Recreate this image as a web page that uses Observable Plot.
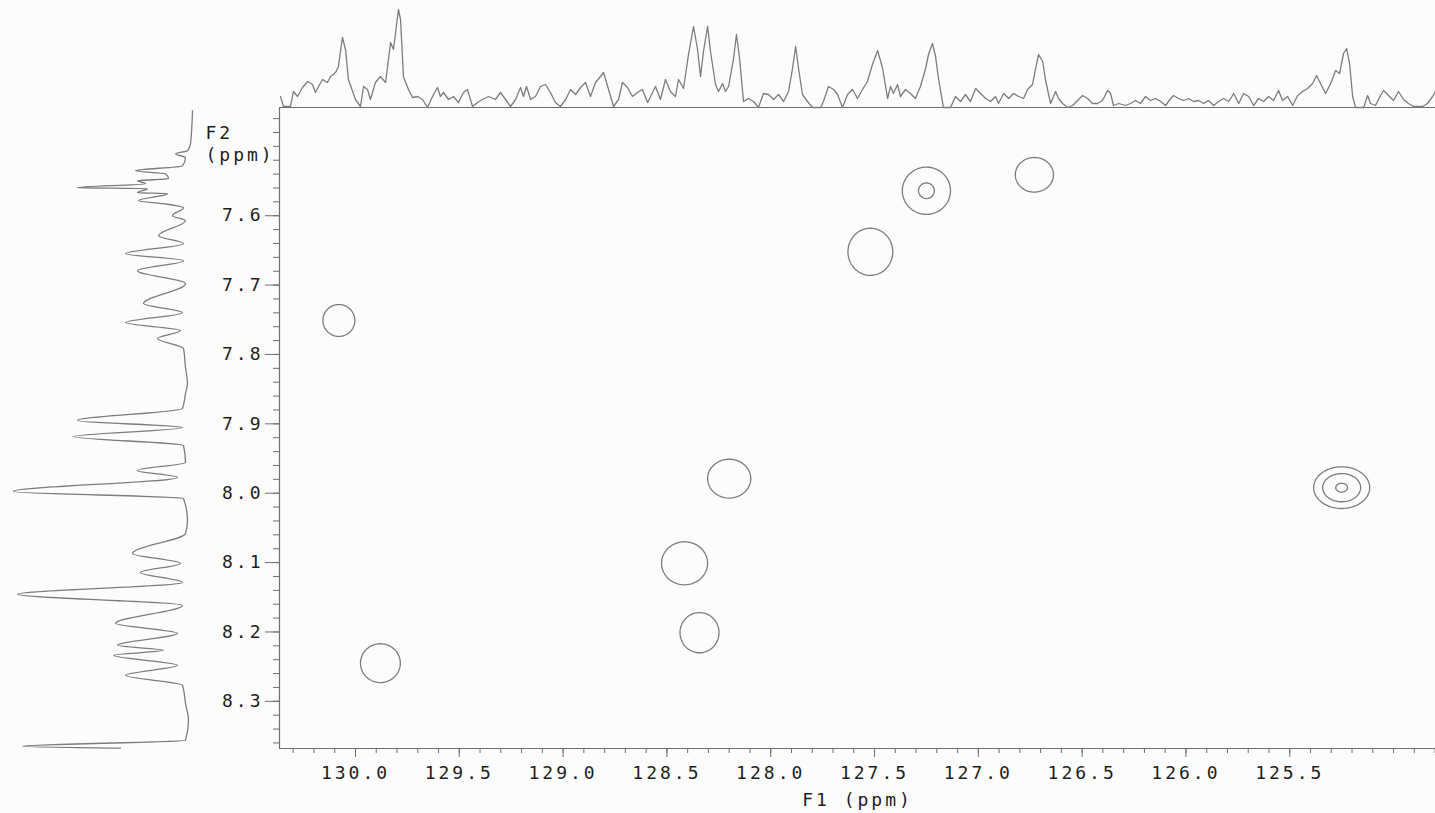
<!DOCTYPE html>
<html><head><meta charset="utf-8">
<script src="https://cdn.jsdelivr.net/npm/d3@7"></script>
<script src="https://cdn.jsdelivr.net/npm/@observablehq/plot@0.6"></script>
<style>
html,body{margin:0;padding:0;background:#fcfcfc;overflow:hidden;}
#wrap{position:relative;width:1435px;height:813px;}
#wrap svg{position:absolute;left:0;top:0;}
</style></head><body><div id="wrap"></div>
<script>
// ---- axis domains and tick labels ----
const xDomain = [130.366, 124.798];   // F1 (ppm), left to right
const yDomain = [7.444, 8.368];       // F2 (ppm), top to bottom
const xMajorTicks = [130.0, 129.5, 129.0, 128.5, 128.0, 127.5, 127.0, 126.5, 126.0, 125.5];
const yMajorTicks = [7.6, 7.7, 7.8, 7.9, 8.0, 8.1, 8.2, 8.3];
const xLabel = "F1 (ppm)";
const yLabel = "F2\n(ppm)";

// ---- cross peaks (contours) ----
const peakF1  = [130.08, 129.88, 128.20, 128.415, 128.343, 127.52, 127.25, 126.73, 125.25];
const peakF2  = [7.751, 8.245, 7.979, 8.101, 8.201, 7.652, 7.564, 7.541, 7.992];
const peakRx  = [0.077, 0.096, 0.104, 0.111, 0.094, 0.108, 0.116, 0.092, 0.135];
const peakRy  = [0.023, 0.028, 0.028, 0.031, 0.029, 0.034, 0.034, 0.025, 0.030];
const peakAmp = [1.5, 1.5, 1.5, 1.5, 1.5, 1.5, 2.18, 1.5, 3.61];
const contourLevels = [1, 2, 3.4];

// ---- F1 projection (top trace) ----
const topF1 = [
130.361,130.347,130.313,130.299,130.279,130.255,130.231,130.207,130.193,130.178,
130.159,130.135,130.120,130.096,130.082,130.063,130.048,130.034,130.000,129.976,
129.961,129.942,129.928,129.904,129.880,129.855,129.831,129.817,129.793,129.783,
129.769,129.745,129.725,129.701,129.677,129.653,129.629,129.605,129.591,129.576,
129.552,129.528,129.504,129.480,129.461,129.436,129.412,129.388,129.359,129.326,
129.302,129.277,129.253,129.229,129.205,129.191,129.176,129.157,129.133,129.109,
129.085,129.061,129.037,129.013,128.988,128.964,128.940,128.916,128.892,128.868,
128.844,128.820,128.805,128.781,128.757,128.733,128.714,128.690,128.666,128.642,
128.618,128.593,128.569,128.555,128.531,
128.507,128.483,128.459,128.444,128.420,128.396,128.372,128.353,128.338,128.324,
128.304,128.290,128.266,128.251,128.232,128.218,128.203,128.179,128.165,128.150,
128.131,128.107,128.083,128.059,128.035,128.011,127.986,127.962,127.938,127.914,
127.895,127.880,127.866,127.847,127.823,127.799,127.760,127.746,127.722,127.697,
127.678,127.654,127.630,127.606,127.582,127.558,127.534,127.510,127.485,127.461,
127.437,127.423,127.409,127.389,127.375,127.351,127.327,127.303,127.279,127.254,
127.240,127.221,127.206,127.192,127.168,127.134,127.110,127.086,127.062,127.038,
127.013,126.989,126.965,126.941,126.917,126.903,126.878,126.854,126.830,126.806,
126.782,126.763,126.739,126.724,126.710,126.690,126.676,
126.652,126.628,126.614,126.594,126.570,126.546,126.522,126.498,126.474,126.450,
126.426,126.402,126.377,126.363,126.349,126.324,126.291,126.267,126.243,126.219,
126.195,126.171,126.146,126.122,126.098,126.074,126.060,126.035,126.011,125.987,
125.963,125.939,125.915,125.891,125.867,125.843,125.819,125.794,125.770,125.746,
125.722,125.698,125.674,125.650,125.626,125.602,125.578,125.554,125.535,125.510,
125.486,125.462,125.438,125.414,125.390,125.371,125.352,125.327,125.303,125.279,
125.260,125.241,125.226,125.212,125.197,125.183,125.144,125.125,125.111,125.087,
125.063,125.048,125.024,125.000,124.976,124.952,124.928,124.904,124.860,124.836,
124.812,124.798];
const topInt = [
11,1,1,16,11,20,26,23,15,21,
28,25,31,35,41,70,58,28,8,1,
21,18,8,25,31,25,65,58,98,88,
31,18,10,11,8,0,11,20,11,15,
8,11,5,15,18,1,5,8,11,8,
15,8,1,8,20,11,21,8,11,21,
23,15,5,1,8,18,13,20,25,11,
25,31,35,18,1,8,25,20,11,15,
18,5,15,21,8,
28,16,11,28,19,53,81,59,31,56,
81,56,23,16,24,16,21,49,73,49,
6,9,6,0,14,13,8,13,6,16,
39,61,39,13,6,0,0,6,21,18,
13,0,13,18,9,18,26,43,57,39,
9,21,14,23,11,18,14,9,21,39,
53,64,51,29,0,0,11,6,13,6,
19,14,9,6,11,4,14,9,14,11,
9,18,23,39,53,46,27,
4,16,9,4,0,2,7,12,9,4,
4,7,17,14,2,4,2,4,7,4,
11,7,9,6,2,9,12,9,7,9,
6,7,4,7,2,6,9,6,14,4,
14,11,2,9,6,11,7,17,7,11,
2,12,16,19,24,32,24,14,24,37,
34,54,59,44,11,0,0,12,4,2,
12,17,12,7,16,8,4,1,1,4,
11,16];

// ---- F2 projection (left trace) ----
const leftF2 = [7.4487,7.4963,7.5063,7.5107,7.5164,7.5280,7.5352,7.5395,7.5467,7.5496,
7.5539,7.5596,7.5611,7.5668,7.5683,7.5784,7.5827,7.5884,7.6000,7.6072,
7.6288,7.6403,7.6547,7.6648,7.6792,7.6979,7.7267,7.7397,7.7541,7.7656,
7.7771,7.7915,7.8189,7.8419,7.8563,7.8779,7.8952,7.9053,7.9183,7.9312,
7.9557,7.9672,7.9773,7.9975,8.0076,8.0393,8.0580,8.0868,8.1012,8.1142,
8.1286,8.1458,8.1617,8.1876,8.2020,8.2193,8.2265,8.2337,8.2481,8.2625,
8.2769,8.3028,8.3273,8.3561,8.3648,8.3676];
const leftInt = [-7,-5,-2,10,0,3,50,20,17,48,
40,108,38,48,18,47,22,2,13,0,
27,2,60,2,48,0,42,3,60,5,
28,2,0,-2,0,3,108,3,112,2,
0,48,8,172,2,-2,0,53,5,45,
3,168,3,70,8,68,22,72,8,60,
3,0,-3,0,163,65];

// ---- styling ----
const W = 1435, H = 813, ML = 279, MT = 107, MB = 65;
const traceColor = "#7d7d7d", axisColor = "#6f6f6f", textColor = "#1e1e1e";
const baseStyle = {background: "transparent", fontFamily: "'DejaVu Sans Mono', monospace",
  fontSize: "18px", letterSpacing: "3px", color: textColor, overflow: "visible"};

const xMinor = d3.range(1248, 1304).map(v => v / 10);
const yMinor = d3.range(373, 419).map(v => v / 50);

const sx = peakRx.map((r, i) => r / Math.sqrt(2 * Math.log(peakAmp[i])));
const sy = peakRy.map((r, i) => r / Math.sqrt(2 * Math.log(peakAmp[i])));
function intensity(x, y) {
  let m = 0;
  for (let i = 0; i < peakF1.length; i++) {
    const dx = (x - peakF1[i]) / sx[i], dy = (y - peakF2[i]) / sy[i];
    const v = peakAmp[i] * Math.exp(-0.5 * (dx * dx + dy * dy));
    if (v > m) m = v;
  }
  return m;
}

let contourMark;
if (typeof Plot.contour === "function") {
  contourMark = Plot.contour({x1: xDomain[0], x2: xDomain[1], y1: yDomain[0], y2: yDomain[1],
    value: intensity, thresholds: contourLevels, stroke: traceColor, strokeWidth: 1.3, fill: "none"});
} else {
  const rows = [];
  peakF1.forEach((f, i) => contourLevels.forEach((t, k) => {
    if (t >= peakAmp[i]) return;
    const s = Math.sqrt(2 * Math.log(peakAmp[i] / t));
    for (let j = 0; j <= 64; j++) {
      const a = j / 64 * 2 * Math.PI;
      rows.push({g: i * 10 + k, x: f + sx[i] * s * Math.cos(a), y: peakF2[i] + sy[i] * s * Math.sin(a)});
    }
  }));
  contourMark = Plot.line(rows, {x: "x", y: "y", z: "g", stroke: traceColor, strokeWidth: 1.3});
}

const main = Plot.plot({
  width: W, height: H, marginLeft: ML, marginRight: 0, marginTop: MT, marginBottom: MB,
  style: baseStyle,
  x: {domain: xDomain},
  y: {domain: yDomain, reverse: true},
  marks: [
    Plot.ruleX([xDomain[0]], {stroke: axisColor, strokeWidth: 1.2}),
    Plot.ruleY([yDomain[0], yDomain[1]], {stroke: axisColor, strokeWidth: 1.2}),
    Plot.axisX(xMinor, {anchor: "bottom", tickSize: 5, tickFormat: () => "", label: null, stroke: axisColor}),
    Plot.axisX(xMajorTicks, {anchor: "bottom", tickSize: 9, tickPadding: 9, tickFormat: d => d.toFixed(1),
      label: null, stroke: axisColor, fill: textColor}),
    Plot.axisY(yMinor, {anchor: "left", tickSize: 6, tickFormat: () => "", label: null, stroke: axisColor}),
    Plot.axisY(yMajorTicks, {anchor: "left", tickSize: 14, tickPadding: 2, tickFormat: d => d.toFixed(1),
      label: null, stroke: axisColor, fill: textColor}),
    contourMark,
    Plot.text([xLabel], {text: d => d, frameAnchor: "bottom", dy: 52, lineAnchor: "middle", fill: textColor}),
    Plot.text([yLabel], {text: d => d, frameAnchor: "top-left", dx: -74, dy: 17, textAnchor: "start",
      lineAnchor: "top", lineHeight: 1.17, fill: textColor})
  ]
});

const topRows = topF1.map((f, i) => ({f1: f, v: topInt[i]}));
const topPlot = Plot.plot({
  width: W, height: MT, marginLeft: ML, marginRight: 0, marginTop: 0, marginBottom: 0,
  style: baseStyle,
  x: {domain: xDomain, axis: null},
  y: {domain: [0, MT], axis: null},
  marks: [Plot.line(topRows, {x: "f1", y: "v", stroke: traceColor, strokeWidth: 1.3})]
});

const leftRows = leftF2.map((f, i) => ({f2: f, v: leftInt[i]}));
const leftPlot = Plot.plot({
  width: ML, height: H, marginLeft: 0, marginRight: ML - 185, marginTop: MT, marginBottom: MB,
  style: baseStyle,
  x: {domain: [185, 0], axis: null},
  y: {domain: yDomain, reverse: true, axis: null},
  marks: [Plot.line(leftRows, {x: "v", y: "f2", curve: "monotone-y", stroke: traceColor, strokeWidth: 1.3})]
});

const wrap = document.getElementById("wrap");
wrap.appendChild(main);
wrap.appendChild(topPlot);
wrap.appendChild(leftPlot);
</script>
</body></html>
